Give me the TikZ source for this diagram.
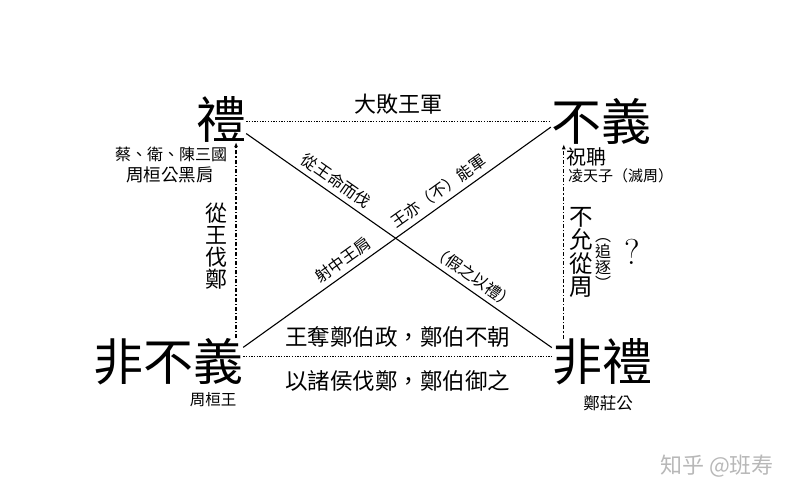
\documentclass[tikz,border=0pt]{standalone}
\usepackage{fontspec}
\newfontfamily\cjk{Noto Sans CJK TC}
\usetikzlibrary{arrows.meta}
\tikzset{
  big char/.style={font=\cjk\fontsize{50}{50}\selectfont, inner sep=0pt},
  line note/.style={font=\cjk\fontsize{#1}{#1}\selectfont, inner sep=1pt},
  slope note/.style={line note=16, sloped, above=4pt},
  side note/.style={font=\cjk\fontsize{#1}{#1}\selectfont, inner sep=0pt},
  vert note/.style={side note=#1, align=center},
  dots/.style={line width=1pt, dash pattern=on 1.3pt off 1.4pt},
  diag/.style={line width=1.1pt},
  upward/.style={line width=1.2pt, dash pattern=on 4pt off 2pt on 1.2pt off 2pt,
    -{Latex[length=5pt,width=4pt]}}
}

\begin{document}
\begin{tikzpicture}[x=1pt, y=-1pt]
\useasboundingbox (0,0) rectangle (800,500);
\node[big char] (li) at (221,119) {禮};
\node[big char] (buyi) at (601,121) {不義};
\node[big char] (feibuyi) at (168,362) {非不義};
\node[big char] (feili) at (602,362) {非禮};

\draw[dots] (li.-5) -- (li.-5 -| buyi.west)
  node[line note=22, midway, above=5pt] {大敗王軍};
\draw[dots] (feibuyi.4) -- (feibuyi.4 -| feili.west)
  node[line note=22.5, midway, above=7.75pt] {王奪鄭伯政，鄭伯不朝}
  node[line note=22.5, midway, below=11.75pt] {以諸侯伐鄭，鄭伯御之};

\draw[diag] (li.-30) -- (feili.164)
  node[slope note, pos=0.27] {從王命而伐}
  node[slope note, pos=0.72] {（假之以禮）};
\draw[diag] (feibuyi.11) -- (buyi.187)
  node[slope note, pos=0.35] {射中王肩}
  node[slope note, pos=0.66] {王亦（不）能軍};

\draw[upward] (li.-57 |- feibuyi.north) -- (li.-57);
\draw[upward] (buyi.-148 |- feili.north) -- (buyi.-148);

\node[side note=16] (sanguo) at (171,154) {蔡、衛、陳三國};
\node[side note=17.5] (heijian) at (170,175) {周桓公黑肩};
\node[vert note=22] (congwang) at (216,246.5) {從\\王\\伐\\鄭};
\node[side note=20, anchor=west] (zhudan) at (566,157) {祝聃};
\node[side note=15, anchor=west] (lingtian) at (568,176) {凌天子（滅周）};
\node[vert note=23.5] (buyun) at (581,252.5) {不\\允\\從\\周};
\node[vert note=16] (zhuizhu) at (603,264) {︵\\追\\逐\\︶};
\node[font=\fontsize{36}{36}\selectfont, inner sep=0pt] (wen) at (632,252) {?};
\node[side note=15.5] (huanwang) at (213,400) {周桓王};
\node[side note=16.5] (zhuang) at (608,403) {鄭莊公};
\node[side note=22, text=black!28] (mark) at (717,466) {知乎 @班寿};
\end{tikzpicture}
\end{document}
